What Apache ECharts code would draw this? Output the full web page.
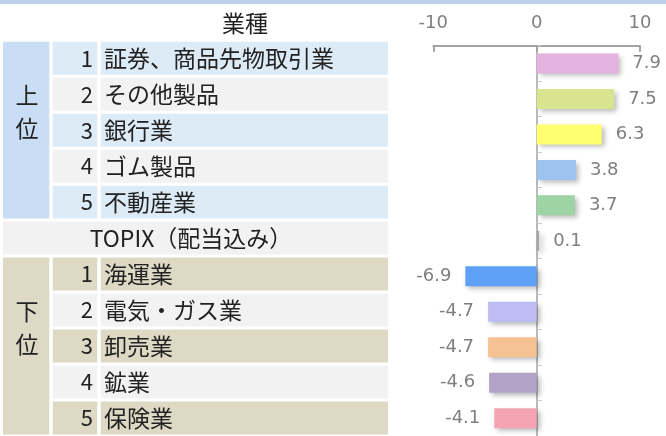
<!DOCTYPE html>
<html>
<head>
<meta charset="utf-8">
<script src="https://cdn.jsdelivr.net/npm/echarts@6/dist/echarts.min.js"></script>
<style>html,body{margin:0;padding:0;background:#fff;}#c{width:666px;height:436px;}</style>
</head>
<body>
<div id="c"></div>
<script>
// ---- data ----
const headerLabel = '業種';
const groupLabels = ['上\n位', '下\n位'];
const groupStart = [0, 6];
const groupEnd = [4, 10];
const ranks = ['1', '2', '3', '4', '5', '', '1', '2', '3', '4', '5'];
const industries = ['証券、商品先物取引業', 'その他製品', '銀行業', 'ゴム製品', '不動産業', 'TOPIX（配当込み）', '海運業', '電気・ガス業', '卸売業', '鉱業', '保険業'];
const values = [7.9, 7.5, 6.3, 3.8, 3.7, 0.1, -6.9, -4.7, -4.7, -4.6, -4.1];
const barColors = ['#e4b2de', '#d8e48f', '#ffff70', '#9cc4ee', '#9dd3a5', '#a6a6a6', '#5fa0f7', '#bdbdf3', '#f6c293', '#b3a2c8', '#f4a4b2'];
const xMin = -10, xMax = 10, xStep = 10;

// ---- style ----
const CJK = '"Noto Sans CJK JP", "Noto Sans", sans-serif';
const NUMF = '"DejaVu Sans", Verdana, sans-serif';
const TXT = '#222222';
const LBL = '#7f7f7f';
const AX = '#a3a3a3';
const topCellColor = '#c9def4', topRowA = '#ddebf7', rowB = '#f2f2f2';
const botCellColor = '#ddd9c4', botRowA = '#ddd9c4';

const chart = echarts.init(document.getElementById('c'), null, {renderer: 'canvas'});

function rowRender(params, api) {
  const i = api.value(1);
  const c = api.coord([0, i]);
  const h = api.size([0, 1])[1];
  const rh = h - 3;
  const top = c[1] - rh / 2;
  const isTop = i < 5;
  const rowA = isTop ? topRowA : botRowA;
  const fill = (i === 5) ? rowB : ((i % 6) % 2 === 0 ? rowA : rowB);
  const children = [];
  if (ranks[i] === '') {
    children.push({type: 'rect', shape: {x: 3, y: top, width: 385, height: rh}, style: {fill: rowB}});
    children.push({type: 'text', style: {x: 191, y: c[1], text: industries[i], fill: TXT, font: '23px ' + CJK, align: 'center', verticalAlign: 'middle'}});
  } else {
    children.push({type: 'rect', shape: {x: 52.7, y: top, width: 44.6, height: rh}, style: {fill: fill}});
    children.push({type: 'rect', shape: {x: 100.7, y: top, width: 287.3, height: rh}, style: {fill: fill}});
    children.push({type: 'text', style: {x: 93, y: c[1], text: ranks[i], fill: TXT, font: '22px ' + CJK, align: 'right', verticalAlign: 'middle'}});
    children.push({type: 'text', style: {x: 104, y: c[1], text: industries[i], fill: TXT, font: '23px ' + CJK, align: 'left', verticalAlign: 'middle'}});
  }
  return {type: 'group', children: children};
}

function groupRender(params, api) {
  const g = params.dataIndex;
  const s = api.value(1), e = api.value(2);
  const h = api.size([0, 1])[1];
  const top = api.coord([0, s])[1] - (h - 3) / 2;
  const bot = api.coord([0, e])[1] + (h - 3) / 2;
  return {type: 'group', children: [
    {type: 'rect', shape: {x: 3, y: top, width: 46.3, height: bot - top}, style: {fill: g === 0 ? topCellColor : botCellColor}},
    {type: 'text', style: {x: 27, y: top + 70, text: groupLabels[g], fill: TXT, font: '23px ' + CJK, align: 'center', verticalAlign: 'middle', lineHeight: 33}}
  ]};
}

const option = {
  animation: false,
  backgroundColor: '#ffffff',
  graphic: [
    {type: 'rect', shape: {x: 0, y: 0, width: 666, height: 4}, style: {fill: '#bdd0ec'}, z: 10},
    {type: 'text', style: {x: 245, y: 23, text: headerLabel, fill: TXT, font: '23px ' + CJK, align: 'center', verticalAlign: 'middle'}}
  ],
  grid: [
    {left: 433.3, top: 45.7, width: 206.7, height: 392.7},
    {left: 3, top: 40.2, width: 385, height: 399.7}
  ],
  xAxis: [
    {
      gridIndex: 0, type: 'value', position: 'top', min: xMin, max: xMax, interval: xStep,
      axisLine: {show: true, lineStyle: {color: AX, width: 2}},
      axisTick: {show: true, inside: true, length: 6, lineStyle: {color: AX, width: 2}},
      axisLabel: {color: LBL, fontSize: 18, fontFamily: NUMF, margin: 13},
      splitLine: {show: false}
    },
    {gridIndex: 1, type: 'value', min: 0, max: 1, show: false}
  ],
  yAxis: [
    {
      gridIndex: 0, type: 'category', inverse: true, data: industries,
      axisLine: {show: true, onZero: true, lineStyle: {color: AX, width: 1.5}},
      axisTick: {show: true, inside: true, length: 5, lineStyle: {color: '#c8c8c8'}},
      axisLabel: {show: false},
      splitLine: {show: false}
    },
    {gridIndex: 1, type: 'category', inverse: true, data: industries, show: false}
  ],
  series: [
    {
      type: 'custom', xAxisIndex: 1, yAxisIndex: 1, renderItem: groupRender,
      data: groupStart.map((s, k) => [0, s, groupEnd[k]]), z: 1, silent: true
    },
    {
      type: 'custom', xAxisIndex: 1, yAxisIndex: 1, renderItem: rowRender,
      data: industries.map((n, i) => [0, i]), z: 1, silent: true
    },
    {
      type: 'bar', xAxisIndex: 0, yAxisIndex: 0, barWidth: 20, barMinHeight: 2.5, z: 3,
      data: values.map((v, i) => ({
        value: v,
        itemStyle: {color: barColors[i], shadowBlur: 5, shadowOffsetX: 3, shadowOffsetY: 3, shadowColor: 'rgba(0,0,0,0.28)'},
        label: {position: v >= 0 ? 'right' : 'left'}
      })),
      label: {show: true, distance: 14, color: LBL, fontSize: 18, fontFamily: NUMF, formatter: p => p.value.toFixed(1)}
    }
  ]
};
chart.setOption(option);
</script>
</body>
</html>
